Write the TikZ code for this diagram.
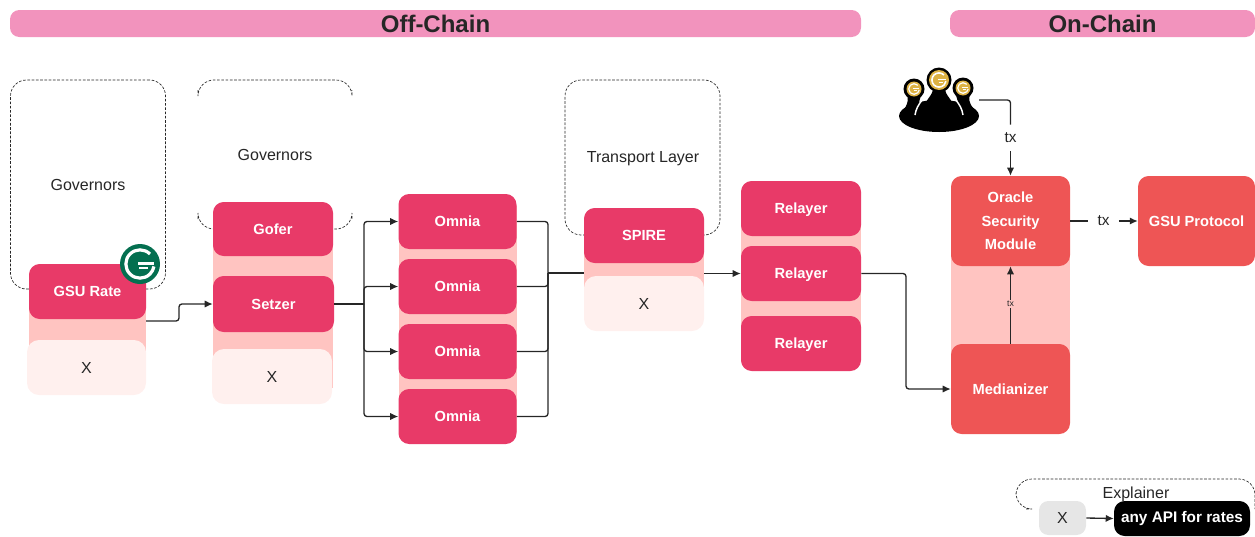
\documentclass[tikz,border=0pt]{standalone}
\usepackage{fontspec}
\setmainfont{Liberation Sans}
\usetikzlibrary{arrows.meta}
\definecolor{hdr}{HTML}{F293BD}
\definecolor{rosebox}{HTML}{E83A68}
\definecolor{redbox}{HTML}{EE5555}
\definecolor{bandc}{HTML}{FFC4C1}
\definecolor{palec}{HTML}{FFF0EE}
\definecolor{inkc}{HTML}{262626}
\definecolor{greenc}{HTML}{046F50}
\definecolor{goldc}{HTML}{DDB244}
\definecolor{greyc}{HTML}{E6E6E6}
\tikzset{
  x=0.75pt,y=-0.75pt,
  wh/.style 2 args={minimum width=#1*0.75pt,minimum height=#2*0.75pt},
  basebox/.style={inner sep=0pt,rounded corners=8pt,align=center},
  headbar/.style={basebox,fill=hdr,text=inkc,font=\fontsize{18}{20}\selectfont\bfseries,rounded corners=7pt},
  rosenode/.style={basebox,fill=rosebox,text=white,font=\fontsize{11}{13}\selectfont\bfseries,text height=8.5pt,text depth=0.6pt},
  rednode/.style={basebox,fill=redbox,text=white,font=\fontsize{11}{17.7}\selectfont\bfseries},
  xnode/.style={basebox,fill=palec,text=inkc,font=\fontsize{12}{14}\selectfont,rounded corners=9pt},
  bandnode/.style={inner sep=0pt,fill=bandc},
  plainlabel/.style={inner sep=0pt,text=inkc,font=\fontsize{12}{14}\selectfont},
  dashbox/.style={draw=inkc,line width=0.5pt,dash pattern=on 2pt off 1.2pt,rounded corners=12pt},
  wire/.style={draw=inkc,line width=1pt,rounded corners=2.2pt},
  arrowwire/.style={wire,-{Latex[length=6pt,width=5.5pt]}},
  pics/glogo/.style 2 args={code={
    \fill[#1] (0,0) circle (#2*1);
    \draw[white,line width=#2*0.12pt] (0.5*#2,-0.5*#2) arc[start angle=-45,end angle=-350,radius=0.707*#2];
    \draw[white,line width=#2*0.09pt] (-0.08*#2,-0.02*#2) -- (0.72*#2,-0.02*#2);
    \draw[white,line width=#2*0.08pt] (-0.05*#2,0.22*#2) -- (0.42*#2,0.22*#2);
  }}
}
\begin{document}
\begin{tikzpicture}
\useasboundingbox (0,0) rectangle (1255,536);
% headers
\node[headbar,wh={851}{27}] (offchain) at (435.5,23.5) {Off-Chain};
\node[headbar,wh={305}{27}] (onchain) at (1102.5,23.5) {On-Chain};
% dashed frames
\node[dashbox,wh={155}{209},inner sep=0pt] (frameone) at (88,184.5) {};
\path[dashbox] (198,90) -- (198,80) -- (352,80) -- (352,90);
\path[dashbox] (198,219) -- (198,229) -- (216,229);
\path[dashbox] (330,229) -- (352,229) -- (352,219);
\path[dashbox] (590,235) -- (565,235) -- (565,80) -- (720,80) -- (720,235) -- (700,235);
\path[dashbox] (1026,509) -- (1016,509) -- (1016,479) -- (1255,479) -- (1255,509);
% bands
\node[bandnode,wh={117}{108}] (bandone) at (87.5,330) {};
\node[bandnode,wh={120}{174}] (bandtwo) at (273,301) {};
\node[bandnode,wh={118}{226}] (bandthree) at (457.5,319) {};
\node[bandnode,wh={120}{98}] (bandfour) at (644,269) {};
\node[bandnode,wh={120}{166}] (bandfive) at (801,276) {};
\node[bandnode,wh={119}{146}] (bandsix) at (1010.5,305) {};
% labels of frames
\node[plainlabel] (govone) at (88,185) {Governors};
\node[plainlabel] (govtwo) at (275,155) {Governors};
\node[plainlabel] (transport) at (643,158.5) {Transport Layer};
% boxes
\node[rosenode,wh={117}{55}] (gsurate) at (87.5,291.5) {GSU Rate};
\node[xnode,wh={119}{55}] (xone) at (86.5,367.5) {X};
\node[rosenode,wh={120}{54}] (gofer) at (273,229) {Gofer};
\node[rosenode,wh={121}{56}] (setzer) at (273.5,304) {Setzer};
\node[xnode,wh={120}{55}] (xtwo) at (272,376.5) {X};
\node[rosenode,wh={118}{55}] (omniaa) at (457.5,221.5) {Omnia};
\node[rosenode,wh={118}{55}] (omniab) at (457.5,286.5) {Omnia};
\node[rosenode,wh={118}{55}] (omniac) at (457.5,351.5) {Omnia};
\node[rosenode,wh={118}{55}] (omniad) at (457.5,416.5) {Omnia};
\node[rosenode,wh={120}{55}] (spire) at (644,235.5) {SPIRE};
\node[xnode,wh={120}{55}] (xthree) at (644,303.5) {X};
\node[rosenode,wh={120}{55}] (relaya) at (801,208.5) {Relayer};
\node[rosenode,wh={120}{55}] (relayb) at (801,273.5) {Relayer};
\node[rosenode,wh={120}{55}] (relayc) at (801,343.5) {Relayer};
\node[rednode,wh={119}{90}] (oracle) at (1010.5,221) {Oracle\\Security\\Module};
\node[rednode,wh={119}{90}] (median) at (1010.5,389) {Medianizer};
\node[rednode,wh={117}{90}] (protocol) at (1196.5,221) {GSU Protocol};
% explainer
\node[plainlabel] (explainer) at (1136,494) {Explainer};
\node[basebox,fill=greyc,text=inkc,font=\fontsize{12}{14}\selectfont,rounded corners=7pt,wh={47}{34}] (xkey) at (1062.5,518) {X};
\node[basebox,fill=black,text=white,font=\fontsize{11.5}{14}\selectfont\bfseries,rounded corners=8pt,wh={136}{35}] (apikey) at (1182,518.5) {any API for rates};
% logo
\pic (logogreen) at (140,264) {glogo={greenc}{20}};
% people icon
\coordinate (people) at (979,100);
\fill[black] (939,116) ellipse[x radius=40,y radius=16];
\fill[black] (933,88) .. controls (933,96) and (926,98) .. (917,118) -- (961,118) .. controls (952,98) and (945,96) .. (945,88) -- cycle;
\fill[black] (906,93) .. controls (909,98) and (908,103) .. (905,108) -- (920,108) .. controls (918,103) and (920,98) .. (922,93) -- cycle;
\fill[black] (955,93) .. controls (957,98) and (959,103) .. (957,108) -- (973,108) .. controls (969,103) and (968,98) .. (971,93) -- cycle;
\fill[black] (914,89) circle (10.5);
\fill[black] (939,80) circle (12.5);
\fill[black] (963,88) circle (10.5);
\draw[white,line width=1.1pt] (915,115) .. controls (916,109) and (918,105) .. (923,99);
\draw[white,line width=1.1pt] (963,115) .. controls (962,109) and (960,105) .. (955,99);
\pic (goldl) at (914,89) {glogo={goldc}{7.5}};
\pic (goldm) at (939,80) {glogo={goldc}{10}};
\pic (goldr) at (963,88) {glogo={goldc}{7.5}};
% tx labels
\node[plainlabel,fill=white,inner sep=0pt,minimum height=26*0.75pt,font=\fontsize{11.5}{13}\selectfont] (txtop) at (1010.5,138) {tx};
\node[plainlabel,inner sep=0pt,minimum width=30*0.75pt,font=\fontsize{11.5}{13}\selectfont] (txright) at (1103.5,221) {tx};
\node[plainlabel,fill=bandc,inner sep=0.5pt,font=\fontsize{6.5}{8}\selectfont] (txmid) at (1010.5,304) {tx};
% connectors
\coordinate (gsuout) at (146,321);
\path[arrowwire] (gsuout) -- (179,321) -- (179,304) -- (setzer.west);
\coordinate (splitv) at (364,304);
\path[wire] (setzer.east) -- (splitv);
\path[arrowwire] (splitv) |- (omniaa.west);
\path[arrowwire] (splitv) |- (omniab.west);
\path[arrowwire] (splitv) |- (omniac.west);
\path[arrowwire] (splitv) |- (omniad.west);
\coordinate (joinv) at (548,273);
\path[wire] (omniaa.east) -| (joinv);
\path[wire] (omniab.east) -| (joinv);
\path[wire] (omniac.east) -| (joinv);
\path[wire] (omniad.east) -| (joinv);
\path[wire] (joinv) -- (bandfour.west |- joinv);
\path[arrowwire] (bandfour.east |- relayb.west) -- (relayb.west);
\path[arrowwire] (relayb.east) -- (906,273.5) -- (906,389) -- (median.west);
\path[wire] (people) -- (1010.5,100) -- (txtop.north);
\path[arrowwire] (txtop.south) -- (oracle.north);
\path[wire] (oracle.east) -- (txright.west);
\path[arrowwire] (txright.east) -- (protocol.west);
\path[wire] (median.north) -- (txmid.south);
\path[arrowwire] (txmid.north) -- (oracle.south);
\path[arrowwire] (xkey.east) -- (apikey.west);
\end{tikzpicture}
\end{document}
